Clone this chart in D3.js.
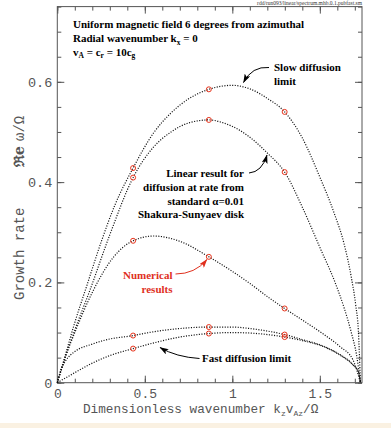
<!DOCTYPE html>
<html><head><meta charset="utf-8">
<script src="https://cdn.jsdelivr.net/npm/d3@7"></script>
<style>
html,body{margin:0;padding:0;background:#fff;}
svg{display:block;}
</style></head>
<body>
<script>
// ---------------- data ----------------
const xTicksMajor = [0, 0.5, 1, 1.5];
const xTickLabels = ["0", "0.5", "1", "1.5"];
const yTicksMajor = [0, 0.2, 0.4, 0.6];
const yTickLabels = ["0", "0.2", "0.4", "0.6"];

// Slow diffusion limit
const kSlow    = [0, 0.05, 0.1, 0.17, 0.25, 0.33, 0.433, 0.55, 0.65, 0.75, 0.866, 1.0, 1.1, 1.2, 1.299, 1.4, 1.5, 1.58, 1.64, 1.68, 1.705, 1.72, 1.732];
const rateSlow = [0, 0.06, 0.12, 0.195, 0.28, 0.355, 0.428, 0.498, 0.538, 0.566, 0.585, 0.593, 0.586, 0.567, 0.540, 0.488, 0.41, 0.34, 0.275, 0.21, 0.155, 0.105, 0];
// Linear result, alpha = 0.01 (upper)
const kAlphaHi    = [0, 0.05, 0.1, 0.187, 0.3, 0.433, 0.55, 0.65, 0.75, 0.866, 0.95, 1.044, 1.12, 1.2, 1.299, 1.4, 1.5, 1.587, 1.64, 1.68, 1.71, 1.732];
const rateAlphaHi = [0, 0.055, 0.105, 0.185, 0.295, 0.409, 0.47, 0.5, 0.518, 0.524, 0.518, 0.503, 0.484, 0.458, 0.42, 0.35, 0.27, 0.2, 0.148, 0.1, 0.055, 0];
// middle curve
const kMid    = [0, 0.05, 0.1, 0.2, 0.32, 0.433, 0.55, 0.7, 0.866, 1.0, 1.1, 1.215, 1.299, 1.4, 1.52, 1.615, 1.69, 1.732];
const rateMid = [0, 0.055, 0.1, 0.18, 0.25, 0.283, 0.2925, 0.282, 0.251, 0.222, 0.198, 0.168, 0.148, 0.125, 0.097, 0.072, 0.045, 0];
// lower dotted curve
const kLow    = [0, 0.02, 0.05, 0.1, 0.2, 0.273, 0.433, 0.558, 0.7, 0.866, 1.0, 1.1, 1.2, 1.299, 1.4, 1.52, 1.615, 1.69, 1.72, 1.732];
const rateLow = [0, 0.025, 0.045, 0.062, 0.077, 0.085, 0.094, 0.102, 0.108, 0.111, 0.111, 0.108, 0.103, 0.096, 0.086, 0.073, 0.056, 0.036, 0.022, 0];
// Fast diffusion limit
const kFast    = [0, 0.1, 0.177, 0.3, 0.433, 0.558, 0.7, 0.866, 1.0, 1.1, 1.2, 1.299, 1.4, 1.52, 1.615, 1.69, 1.72, 1.732];
const rateFast = [0, 0.02, 0.035, 0.054, 0.068, 0.080, 0.091, 0.098, 0.100, 0.099, 0.096, 0.091, 0.084, 0.072, 0.055, 0.035, 0.022, 0];

// Numerical results (circles)
const kNum    = [0.433, 0.433, 0.433, 0.433, 0.433, 0.866, 0.866, 0.866, 0.866, 0.866, 1.299, 1.299, 1.299, 1.299, 1.299];
const rateNum = [0.428, 0.409, 0.283, 0.094, 0.068, 0.585, 0.524, 0.251, 0.111, 0.098, 0.540, 0.420, 0.148, 0.096, 0.091];

// ---------------- chart ----------------
const W = 391, H = 428;
const svg = d3.select("body").append("svg").attr("width", W).attr("height", H);

svg.append("rect").attr("x",0).attr("y",423).attr("width",W).attr("height",5).attr("fill","#faf1e2");

const x = d3.scaleLinear().domain([0, 1.741]).range([57.3, 362]);
const y = d3.scaleLinear().domain([0, 0.75]).range([382.7, 6.6]);

const tickFont = "'Liberation Mono', monospace";
const axisColor = "#555";

function styleAxis(g){
  g.select(".domain").remove();
  g.selectAll("line").attr("stroke", axisColor).attr("stroke-width", 1);
}
const xMinor = d3.range(0, 1.75, 0.1).map(v => +v.toFixed(2));
const yMinor = d3.range(0, 0.76, 0.05).map(v => +v.toFixed(2));

// bottom
svg.append("g").attr("transform", `translate(0,${y(0)})`)
  .call(d3.axisBottom(x).tickValues(xMinor).tickSize(-4).tickFormat(""))
  .call(styleAxis);
const gxb = svg.append("g").attr("transform", `translate(0,${y(0)})`)
  .call(d3.axisBottom(x).tickValues(xTicksMajor).tickSize(-7).tickPadding(6)
        .tickFormat((d,i) => xTickLabels[i]))
  .call(styleAxis);
gxb.selectAll("text").attr("font-family", tickFont).attr("font-size", 13).attr("fill", axisColor);
// top
svg.append("g").attr("transform", `translate(0,${y(0.75)})`)
  .call(d3.axisTop(x).tickValues(xMinor).tickSize(-4).tickFormat("")).call(styleAxis);
svg.append("g").attr("transform", `translate(0,${y(0.75)})`)
  .call(d3.axisTop(x).tickValues(xTicksMajor).tickSize(-7).tickFormat("")).call(styleAxis);
// left
svg.append("g").attr("transform", `translate(${x(0)},0)`)
  .call(d3.axisLeft(y).tickValues(yMinor).tickSize(-4).tickFormat("")).call(styleAxis);
const gyl = svg.append("g").attr("transform", `translate(${x(0)},0)`)
  .call(d3.axisLeft(y).tickValues(yTicksMajor).tickSize(-7).tickPadding(5)
        .tickFormat((d,i) => yTickLabels[i]))
  .call(styleAxis);
gyl.selectAll("text").attr("font-family", tickFont).attr("font-size", 13.5).attr("fill", axisColor);
// right
svg.append("g").attr("transform", `translate(${x(1.741)},0)`)
  .call(d3.axisRight(y).tickValues(yMinor).tickSize(-4).tickFormat("")).call(styleAxis);
svg.append("g").attr("transform", `translate(${x(1.741)},0)`)
  .call(d3.axisRight(y).tickValues(yTicksMajor).tickSize(-7).tickFormat("")).call(styleAxis);

// frame
svg.append("rect").attr("x", x(0)).attr("y", y(0.75))
  .attr("width", x(1.741) - x(0)).attr("height", y(0) - y(0.75))
  .attr("fill", "none").attr("stroke", axisColor).attr("stroke-width", 1);

// curves
const line = d3.line().x(d => x(d[0])).y(d => y(d[1])).curve(d3.curveMonotoneX);
const curves = [
  [kSlow, rateSlow], [kAlphaHi, rateAlphaHi], [kMid, rateMid], [kLow, rateLow], [kFast, rateFast]
];
curves.forEach(([ks, rs]) => {
  svg.append("path").datum(ks.map((k,i) => [k, rs[i]]))
    .attr("d", line).attr("fill", "none").attr("stroke", "#111")
    .attr("stroke-width", 1.2).attr("stroke-dasharray", "1.1,1.5");
});

// numerical results
svg.append("g").selectAll("circle").data(kNum.map((k,i) => [k, rateNum[i]])).join("circle")
  .attr("cx", d => x(d[0])).attr("cy", d => y(d[1])).attr("r", 2.5)
  .attr("fill", "none").attr("stroke", "#e8341c").attr("stroke-width", 1);

// arrow markers
const defs = svg.append("defs");
function marker(id, color){
  defs.append("marker").attr("id", id).attr("viewBox", "0 0 9 6")
    .attr("refX", 8.5).attr("refY", 3).attr("markerWidth", 9).attr("markerHeight", 6)
    .attr("markerUnits", "userSpaceOnUse").attr("orient", "auto")
    .append("path").attr("d", "M0,0 L9,3 L0,6 L2,3 Z").attr("fill", color);
}
marker("ab", "#000"); marker("ar", "#e0301e");
function arrow(p, color, id){
  svg.append("path").attr("d", p).attr("fill", "none").attr("stroke", color)
    .attr("stroke-width", 1).attr("marker-end", `url(#${id})`);
}
arrow("M269,67.5 Q252,66 243.5,82.5", "#000", "ab");
arrow("M249,173 Q262,172 267,155", "#000", "ab");
arrow("M175.5,274 Q195,274 207,259.5", "#e0301e", "ar");
arrow("M199.5,358.5 Q176,357 160,347.5", "#000", "ab");

// annotation text
const serif = "'Liberation Serif', 'Times New Roman', serif";
function btext(tx, ty, anchor, color){
  return svg.append("text").attr("x", tx).attr("y", ty).attr("text-anchor", anchor || "start")
    .attr("font-family", serif).attr("font-weight", "bold").attr("font-size", 11)
    .attr("fill", color || "#000");
}
btext(73, 27.5).text("Uniform magnetic field 6 degrees from azimuthal");
let t = btext(73, 42);
t.append("tspan").text("Radial wavenumber k");
t.append("tspan").attr("font-size", 7.5).attr("dy", 2.5).text("x");
t.append("tspan").attr("dy", -2.5).text(" = 0");
t = btext(73, 55.5);
t.append("tspan").text("v");
t.append("tspan").attr("font-size", 7.5).attr("dy", 2.5).text("A");
t.append("tspan").attr("dy", -2.5).text(" = c");
t.append("tspan").attr("font-size", 7.5).attr("dy", 2.5).text("r");
t.append("tspan").attr("dy", -2.5).text("  = 10c");
t.append("tspan").attr("font-size", 7.5).attr("dy", 2.5).text("g");

btext(274, 71).text("Slow diffusion");
btext(274, 84.5).text("limit");

btext(244, 177, "end").text("Linear result for");
btext(244, 191, "end").text("diffusion at rate from");
btext(244, 204.5, "end").text("standard  \u03b1=0.01");
btext(244, 218, "end").text("Shakura-Sunyaev disk");

btext(172.5, 279, "end", "#e0301e").text("Numerical");
btext(172.5, 292.5, "end", "#e0301e").text("results");

btext(202, 362).text("Fast diffusion limit");

svg.append("text").attr("x", 362).attr("y", 4.5).attr("text-anchor", "end")
  .attr("font-family", serif).attr("font-size", 5.5).attr("fill", "#333")
  .text("rdd/run093/linear/spectrum.mhb.0.1.pubfast.sm");

// axis titles
const xl = svg.append("text").attr("x", 83).attr("y", 413)
  .attr("font-family", tickFont).attr("font-size", 12.7).attr("fill", axisColor);
xl.append("tspan").text("Dimensionless wavenumber k");
xl.append("tspan").attr("font-size", 8).attr("dy", 2.5).text("z");
xl.append("tspan").attr("dy", -2.5).text("v");
xl.append("tspan").attr("font-size", 8).attr("dy", 2.5).text("Az");
xl.append("tspan").attr("dy", -2.5).text("/\u03a9");

function ytext(y0, s, fam, weight){
  svg.append("text").attr("transform", `translate(24,${y0}) rotate(-90)`)
    .attr("font-family", fam || tickFont).attr("font-weight", weight || "normal")
    .attr("font-size", 14).attr("fill", axisColor).text(s);
}
ytext(300, "Growth rate");
ytext(167, "\u211ce", "'DejaVu Serif', serif", "bold");
ytext(141, "\u03c9/\u03a9");
</script>
</body></html>
